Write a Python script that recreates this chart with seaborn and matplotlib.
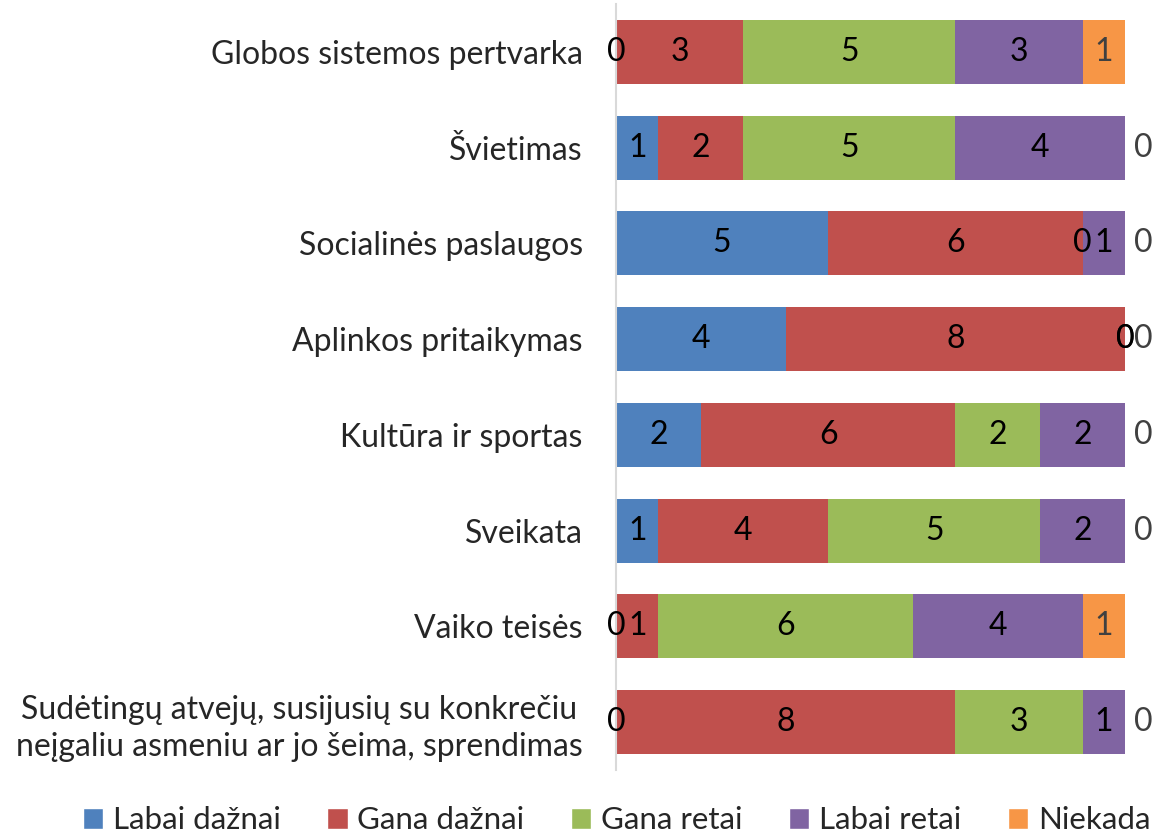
import numpy as np
import pandas as pd
import matplotlib
matplotlib.use("Agg")
import matplotlib.pyplot as plt
import seaborn as sns
from matplotlib.patches import Patch

categories = [
    "Globos sistemos pertvarka",
    "Švietimas",
    "Socialinės paslaugos",
    "Aplinkos pritaikymas",
    "Kultūra ir sportas",
    "Sveikata",
    "Vaiko teisės",
    "Sudėtingų atvejų, susijusių su konkrečiu\nneįgaliu asmeniu ar jo šeima, sprendimas",
]
series = ["Labai dažnai", "Gana dažnai", "Gana retai", "Labai retai", "Niekada"]
labai_daznai = [0, 1, 5, 4, 2, 1, 0, 0]
gana_daznai = [3, 2, 6, 8, 6, 4, 1, 8]
gana_retai = [5, 5, 0, 0, 2, 5, 6, 3]
labai_retai = [3, 4, 1, 0, 2, 2, 4, 1]
niekada = [1, 0, 0, 0, 0, 0, 1, 0]
colors = ["#4f81bd", "#c0504d", "#9bbb59", "#8064a2", "#f79646"]

sns.set_theme(style="white")
plt.rcParams["font.family"] = ["Lato", "DejaVu Sans"]

values = np.array([labai_daznai, gana_daznai, gana_retai, labai_retai, niekada], dtype=float)
cum = values.cumsum(axis=0)
df = pd.DataFrame(cum.T, columns=series)
df["cat"] = categories

fig = plt.figure(figsize=(11.59, 8.35), dpi=100)
ax = fig.add_axes([616 / 1159, 1 - 770 / 835, 509 / 1159, 766 / 835])

# draw cumulative bars from the back so each series shows as a stacked segment
for i in range(len(series) - 1, -1, -1):
    sns.barplot(data=df, x=series[i], y="cat", orient="h", color=colors[i],
                width=0.667, saturation=1, ax=ax, linewidth=0)

# data labels
fs = 23
for i in range(len(series)):
    for j in range(len(categories)):
        v = values[i, j]
        left = cum[i, j] - v
        if i == len(series) - 1:
            if v == 0:
                ax.annotate("0", (cum[i, j], j), xytext=(18, 0), textcoords="offset pixels",
                            ha="center", va="center", fontsize=fs, color="#404040")
            else:
                ax.text(left + v / 2, j, f"{int(v)}", ha="center", va="center",
                        fontsize=fs, color="#404040")
        else:
            ax.text(left + v / 2, j, f"{int(v)}", ha="center", va="center",
                    fontsize=fs, color="black")

ax.set_xlim(0, 12)
ax.set_ylim(len(categories) - 0.5, -0.5)
ax.set_xlabel("")
ax.set_ylabel("")
ax.set_xticks([])
ax.tick_params(axis="y", length=0, pad=24, labelsize=fs)
for lbl in ax.get_yticklabels():
    lbl.set_multialignment("center")
    lbl.set_linespacing(1.3)
for s in ["top", "right", "bottom"]:
    ax.spines[s].set_visible(False)
ax.spines["left"].set_color("#d9d9d9")
ax.spines["left"].set_linewidth(1.5)

handles = [Patch(facecolor=c, label=s) for c, s in zip(colors, series)]
fig.legend(handles=handles, loc="lower center", bbox_to_anchor=(0.532, -0.033), ncol=5,
           frameon=False, fontsize=22.5, handlelength=0.65, handleheight=0.65,
           handletextpad=0.3, columnspacing=1.5)

fig.savefig("out.png", dpi=100)
